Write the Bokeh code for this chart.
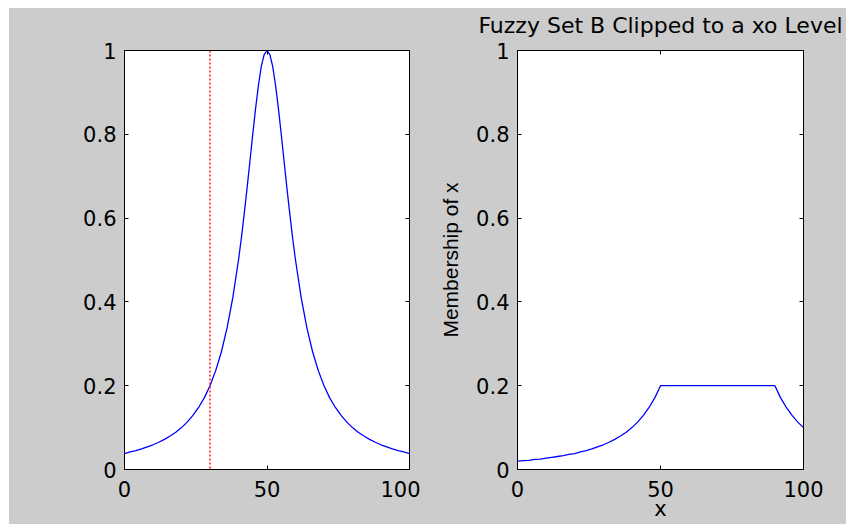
from bokeh.plotting import figure
from bokeh.layouts import row
from bokeh.models import LinearAxis, FixedTicker, NumeralTickFormatter, Span, Range1d
from bokeh.embed import file_html
from bokeh.resources import INLINE

# ---- data ----
# left plot: fuzzy set, sampled more densely around the peak
x_a = [0, 2, 4, 6, 8, 10, 12, 14, 16, 18, 20, 22, 24, 26, 28, 30, 32, 34, 36, 38,
       40, 41, 42, 43, 44, 45, 46, 47, 48, 49, 50, 51, 52, 53, 54, 55, 56, 57, 58, 59, 60,
       62, 64, 66, 68, 70, 72, 74, 76, 78, 80, 82, 84, 86, 88, 90, 92, 94, 96, 98, 100]

set_a_membership = [0.038, 0.042, 0.045, 0.049, 0.054, 0.059, 0.065, 0.072, 0.080, 0.089,
                    0.100, 0.113, 0.129, 0.148, 0.171, 0.200, 0.236, 0.281, 0.338, 0.410,
                    0.500, 0.552, 0.610, 0.671, 0.735, 0.800, 0.862, 0.917, 0.962, 0.990,
                    1.000,
                    0.990, 0.962, 0.917, 0.862, 0.800, 0.735, 0.671, 0.610, 0.552, 0.500,
                    0.410, 0.338, 0.281, 0.236, 0.200, 0.171, 0.148, 0.129, 0.113, 0.100,
                    0.089, 0.080, 0.072, 0.065, 0.059, 0.054, 0.049, 0.045, 0.042, 0.038]

# right plot: set B clipped at the xo level
x_b = [0, 2, 4, 6, 8, 10, 12, 14, 16, 18, 20, 22, 24, 26, 28, 30, 32, 34, 36, 38,
       40, 42, 44, 46, 48, 50, 52, 54, 56, 58, 60, 62, 64, 66, 68, 70, 72, 74, 76, 78,
       80, 82, 84, 86, 88, 90, 92, 94, 96, 98, 100]

clipped_b_membership = [0.020, 0.021, 0.022, 0.024, 0.025, 0.027, 0.029, 0.031, 0.033, 0.036,
                        0.038, 0.042, 0.045, 0.049, 0.054, 0.059, 0.065, 0.072, 0.080, 0.089,
                        0.100, 0.113, 0.129, 0.148, 0.171, 0.200, 0.200, 0.200, 0.200, 0.200,
                        0.200, 0.200, 0.200, 0.200, 0.200, 0.200, 0.200, 0.200, 0.200, 0.200,
                        0.200, 0.200, 0.200, 0.200, 0.200, 0.200, 0.171, 0.148, 0.129, 0.113,
                        0.100]

xo = 30
x_ticks = [0, 50, 100]
y_ticks = [0, 0.2, 0.4, 0.6, 0.8, 1]
title_text = "Fuzzy Set B Clipped to a xo Level"
ylabel_text = "Membership of x"
xlabel_text = "x"

FIG_BG = "#cccccc"
TICK_FONT = "DejaVu Sans"
TICK_SIZE = "21px"
FIG_H = 516


def style_axis(ax, ticks, show_labels, standoff=8):
    ax.ticker = FixedTicker(ticks=ticks)
    ax.formatter = NumeralTickFormatter(format="0.[0]")
    ax.axis_line_color = "black"
    ax.axis_line_width = 1
    ax.major_tick_line_color = "black"
    ax.major_tick_in = 4
    ax.major_tick_out = 0
    ax.minor_tick_line_color = None
    ax.major_label_text_font = TICK_FONT
    ax.major_label_text_color = "#000000"
    ax.major_label_standoff = standoff
    if show_labels:
        ax.major_label_text_font_size = TICK_SIZE
    else:
        ax.major_label_text_font_size = "0px"
        ax.major_label_text_color = None
        ax.major_label_standoff = 0
        ax.axis_label_standoff = 0


def make_fig(width, left, right):
    p = figure(width=width, height=FIG_H, title=None,
               x_range=Range1d(0, 100), y_range=Range1d(0, 1),
               output_backend="svg", toolbar_location=None,
               min_border_left=left, min_border_right=right,
               min_border_top=42, min_border_bottom=FIG_H - 42 - 419)
    p.border_fill_color = FIG_BG
    p.background_fill_color = "white"
    p.outline_line_color = "black"
    p.xgrid.visible = False
    p.ygrid.visible = False
    style_axis(p.below[0], x_ticks, True, standoff=11)
    style_axis(p.left[0], y_ticks, True, standoff=8)
    top = LinearAxis()
    style_axis(top, x_ticks, False)
    p.add_layout(top, "above")
    rgt = LinearAxis()
    style_axis(rgt, y_ticks, False)
    p.add_layout(rgt, "right")
    return p


# ---- left plot: fuzzy set with xo marker ----
p1 = make_fig(411, 115, 11)
p1.line(x_a, set_a_membership, line_color="#0000ff", line_width=1.3)
p1.add_layout(Span(location=xo, dimension="height", line_color="#ff0000",
                   line_dash="2 2", line_width=1.4))

# ---- right plot: clipped set B ----
p2 = make_fig(426, 97, 43)
p2.line(x_b, clipped_b_membership, line_color="#0000ff", line_width=1.3)

# title shown as the label of the top axis (centered over the plot area)
tax = p2.above[0]
tax.axis_label = title_text
tax.axis_label_text_font = "DejaVu Sans"
tax.axis_label_text_font_size = "22px"
tax.axis_label_text_font_style = "normal"
tax.axis_label_text_color = "#000000"
tax.axis_label_standoff = 13

yax = p2.left[0]
yax.axis_label = ylabel_text
yax.axis_label_text_font = "Liberation Sans"
yax.axis_label_text_font_size = "21px"
yax.axis_label_text_font_style = "normal"
yax.axis_label_text_color = "#000000"
yax.axis_label_standoff = 11

xax = p2.below[0]
xax.axis_label = xlabel_text
xax.axis_label_text_font = "DejaVu Sans"
xax.axis_label_text_font_size = "21px"
xax.axis_label_text_font_style = "normal"
xax.axis_label_text_color = "#000000"
xax.axis_label_standoff = -3

layout = row(p1, p2, spacing=0, margin=(8, 0, 0, 9),
             styles={"background-color": FIG_BG})
open("out.html", "w").write(file_html(layout, INLINE))
